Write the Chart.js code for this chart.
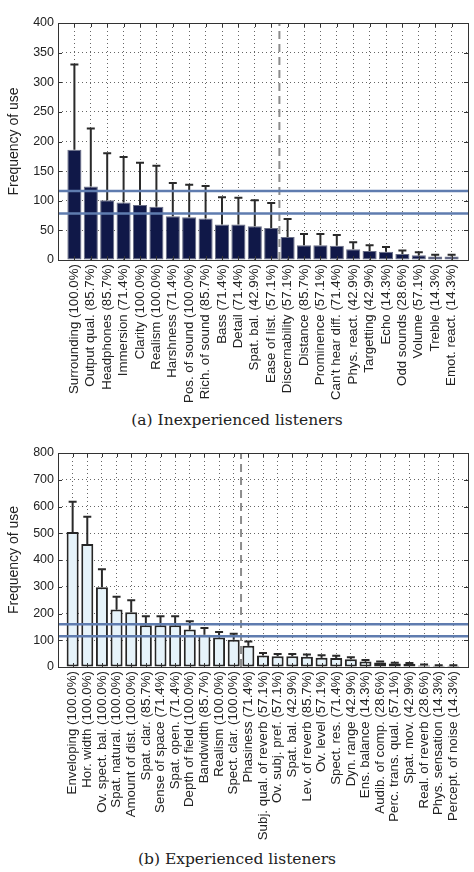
<!DOCTYPE html>
<html>
<head>
<meta charset="utf-8">
<script src="https://cdn.jsdelivr.net/npm/chart.js@4.4.0/dist/chart.umd.min.js"></script>
<style>
  body { margin: 0; background: #fff; width: 474px; height: 872px; position: relative; overflow: hidden; }
  .wrap { position: absolute; left: 0; width: 474px; }
  .caption { position: absolute; left: 0; width: 474px; text-align: center; font-family: 'DejaVu Serif', serif; font-size: 15.5px; color: #222; }
</style>
</head>
<body>
<div class="wrap" style="top:0;height:410px"><canvas id="chart-a"></canvas></div>
<div class="caption" style="top:411px">(a) Inexperienced listeners</div>
<div class="wrap" style="top:430px;height:420px"><canvas id="chart-b"></canvas></div>
<div class="caption" style="top:850px">(b) Experienced listeners</div>
<script>
// (a) inexperienced listeners
const labelsA = ['Surrounding (100.0%)', 'Output qual. (85.7%)', 'Headphones (85.7%)', 'Immersion (71.4%)',
  'Clarity (100.0%)', 'Realism (100.0%)', 'Harshness (71.4%)', 'Pos. of sound (100.0%)', 'Rich. of sound (85.7%)',
  'Bass (71.4%)', 'Detail (71.4%)', 'Spat. bal. (42.9%)', 'Ease of list. (57.1%)', 'Discernability (57.1%)',
  'Distance (85.7%)', 'Prominence (57.1%)', "Can't hear diff. (71.4%)", 'Phys. react. (42.9%)', 'Targetting (42.9%)',
  'Echo (14.3%)', 'Odd sounds (28.6%)', 'Volume (57.1%)', 'Treble (14.3%)', 'Emot. react. (14.3%)'];
const freqA = [186, 124, 101, 97, 93, 90, 74, 72, 70, 60, 60, 57, 54, 39, 25, 25, 24, 18, 15, 14, 10, 8, 6, 6];
const errTopA = [330, 222, 180, 174, 164, 159, 130, 127, 125, 106, 105, 101, 96, 69, 44, 44, 42, 30, 25, 22, 16, 13, 9, 9];
const refLinesA = [78.5, 116.5];
const splitA = 13.5;
const yTicksA = { max: 400, step: 50 };

// (b) experienced listeners
const labelsB = ['Enveloping (100.0%)', 'Hor. width (100.0%)', 'Ov. spect. bal. (100.0%)', 'Spat. natural. (100.0%)',
  'Amount of dist. (100.0%)', 'Spat. clar. (85.7%)', 'Sense of space (71.4%)', 'Spat. open. (71.4%)',
  'Depth of field (100.0%)', 'Bandwidth (85.7%)', 'Realism (100.0%)', 'Spect. clar. (100.0%)', 'Phasiness (71.4%)',
  'Subj. qual. of reverb (57.1%)', 'Ov. subj. pref. (57.1%)', 'Spat. bal. (42.9%)', 'Lev. of reverb (85.7%)',
  'Ov. level (57.1%)', 'Spect. res. (71.4%)', 'Dyn. range (42.9%)', 'Ens. balance (14.3%)', 'Audib. of comp. (28.6%)',
  'Perc. trans. qual. (57.1%)', 'Spat. mov. (42.9%)', 'Real. of reverb (28.6%)', 'Phys. sensation (14.3%)',
  'Percept. of noise (14.3%)'];
const freqB = [505, 460, 298, 215, 205, 156, 156, 156, 140, 121, 110, 102, 79, 43, 40, 40, 38, 35, 34, 29, 21, 17, 13, 12, 6, 5, 5];
const errTopB = [618, 562, 365, 263, 250, 190, 190, 190, 171, 146, 131, 124, 95, 52, 49, 49, 47, 44, 42, 36, 26, 21, 16, 15, 9, 7, 7];
const refLinesB = [115, 160];
const splitB = 12.5;
const yTicksB = { max: 800, step: 100 };

// error bars drawn right after the bars, before the blue lines
const errorBarPlugin = {
  id: 'errorBars',
  afterDatasetDraw(chart, args, opts) {
    if (args.index !== 0) return;
    const { ctx, scales: { x, y } } = chart;
    ctx.save();
    ctx.strokeStyle = opts.color;
    ctx.lineWidth = 2;
    opts.top.forEach((t, i) => {
      const px = x.getPixelForValue(i + 1);
      const y0 = y.getPixelForValue(opts.values[i]);
      const y1 = y.getPixelForValue(t);
      ctx.beginPath();
      ctx.moveTo(px, y0);
      ctx.lineTo(px, y1);
      ctx.moveTo(px - 4, y1);
      ctx.lineTo(px + 4, y1);
      ctx.stroke();
    });
    ctx.restore();
  }
};

// box round the plot with inward tick marks
const framePlugin = {
  id: 'frame',
  afterDraw(chart) {
    const { ctx, chartArea: a, scales: { x, y } } = chart;
    ctx.save();
    ctx.strokeStyle = '#333';
    ctx.lineWidth = 1;
    ctx.beginPath();
    x.ticks.forEach(t => {
      const px = Math.round(x.getPixelForValue(t.value)) + 0.5;
      ctx.moveTo(px, a.top); ctx.lineTo(px, a.top + 4);
      ctx.moveTo(px, a.bottom); ctx.lineTo(px, a.bottom - 4);
    });
    y.ticks.forEach(t => {
      const py = Math.round(y.getPixelForValue(t.value)) + 0.5;
      ctx.moveTo(a.left, py); ctx.lineTo(a.left + 4, py);
      ctx.moveTo(a.right, py); ctx.lineTo(a.right - 4, py);
    });
    ctx.stroke();
    ctx.strokeRect(Math.round(a.left) + 0.5, Math.round(a.top) + 0.5, Math.round(a.width), Math.round(a.height));
    ctx.restore();
  }
};

function makeChart(el, cfg) {
  const n = cfg.labels.length;
  const datasets = [
    {
      type: 'bar',
      data: cfg.values.map((v, i) => ({ x: i + 1, y: v })),
      backgroundColor: cfg.barColor,
      borderColor: cfg.barBorder,
      borderWidth: cfg.barBorderWidth,
      borderSkipped: false,
      barPercentage: cfg.barPct,
      categoryPercentage: 1,
      order: 2,
    },
    {
      type: 'line',
      data: [{ x: cfg.split, y: 0 }, { x: cfg.split, y: cfg.ticks.max }],
      borderColor: '#8c8c8c',
      borderWidth: 2,
      borderDash: [8, 5],
      pointRadius: 0,
      order: 1,
    },
  ];
  cfg.refLines.forEach(v => {
    datasets.push({
      type: 'line',
      data: [{ x: 0, y: v }, { x: n + 1, y: v }],
      borderColor: '#5f7caf',
      borderWidth: 2.5,
      pointRadius: 0,
      order: 0,
    });
  });

  return new Chart(el, {
    type: 'bar',
    data: { datasets: datasets },
    plugins: [errorBarPlugin, framePlugin],
    options: {
      responsive: true,
      maintainAspectRatio: false,
      animation: false,
      layout: { padding: { top: 23, right: 6, left: 0, bottom: 0 } },
      plugins: {
        legend: { display: false },
        tooltip: { enabled: false },
        errorBars: { values: cfg.values, top: cfg.errTop, color: cfg.errColor },
      },
      scales: {
        x: {
          type: 'linear',
          min: 0,
          max: n + 1,
          offset: false,
          afterBuildTicks: scale => {
            scale.ticks = cfg.labels.map((_, i) => ({ value: i + 1 }));
          },
          afterFit: scale => { scale.height = cfg.xHeight; },
          ticks: {
            autoSkip: false,
            maxRotation: 90,
            minRotation: 90,
            padding: 4,
            color: '#222',
            font: { family: 'Liberation Sans', size: 13.3 },
            callback: v => cfg.labels[v - 1],
          },
          grid: { offset: false, drawTicks: false, color: '#666', lineWidth: 1 },
          border: { display: false, dash: [1, 3] },
        },
        y: {
          min: 0,
          max: cfg.ticks.max,
          afterFit: scale => { scale.width = 58; },
          ticks: {
            stepSize: cfg.ticks.step,
            padding: 4,
            color: '#222',
            font: { family: 'Liberation Sans', size: 12.5 },
          },
          title: {
            display: true,
            text: 'Frequency of use',
            color: '#222',
            font: { family: 'Liberation Sans', size: 14 },
            padding: { top: 6, bottom: 0 },
          },
          grid: { drawTicks: false, color: '#666', lineWidth: 1 },
          border: { display: false, dash: [1, 3] },
        },
      },
    },
  });
}

makeChart(document.getElementById('chart-a'), {
  labels: labelsA, values: freqA, errTop: errTopA, refLines: refLinesA, split: splitA, ticks: yTicksA,
  barColor: '#101848', barBorder: '#6a6f85', barBorderWidth: 1, barPct: 0.86, errColor: '#2a2a2a', xHeight: 150,
});

makeChart(document.getElementById('chart-b'), {
  labels: labelsB, values: freqB, errTop: errTopB, refLines: refLinesB, split: splitB, ticks: yTicksB,
  barColor: '#e6f3fa', barBorder: '#262626', barBorderWidth: 2, barPct: 0.82, errColor: '#2a2a2a', xHeight: 183,
});
</script>
</body>
</html>
